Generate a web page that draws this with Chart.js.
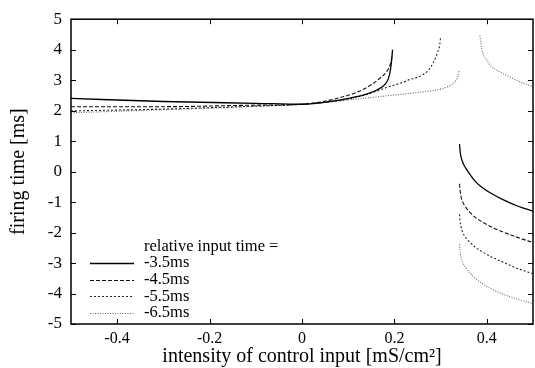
<!DOCTYPE html>
<html>
<head>
<meta charset="utf-8">
<script src="https://cdn.jsdelivr.net/npm/chart.js@4.4.0/dist/chart.umd.min.js"></script>
<style>
  html, body { margin: 0; padding: 0; background: #fff; }
  #wrap { width: 535px; height: 368px; }
</style>
</head>
<body>
<div id="wrap"><canvas id="c" width="535" height="368"></canvas></div>
<script>
// Series labels (relative input time)
const seriesLabels = ['-3.5ms', '-4.5ms', '-5.5ms', '-6.5ms'];
const xTicks = [-0.4, -0.2, 0, 0.2, 0.4];
const yTicks = [-5, -4, -3, -2, -1, 0, 1, 2, 3, 4, 5];

// -3.5ms
const t35Left = [[-0.5, 2.40], [-0.3, 2.30], [-0.1, 2.24], [0, 2.21], [0.07, 2.32], [0.1, 2.40],
    [0.14, 2.54], [0.165, 2.70], [0.18, 2.87], [0.187, 3.05], [0.191, 3.30], [0.194, 3.65], [0.196, 4.0]];
const t35Right = [[0.341, 0.90], [0.342, 0.70], [0.344, 0.50], [0.348, 0.30], [0.355, 0.10], [0.364, -0.10],
    [0.375, -0.32], [0.39, -0.52], [0.41, -0.72], [0.435, -0.92], [0.465, -1.12], [0.5, -1.30]];

// -4.5ms
const t45Left = [[-0.5, 2.13], [-0.3, 2.13], [-0.1, 2.18], [0, 2.21], [0.083, 2.43], [0.133, 2.70],
    [0.17, 3.08], [0.185, 3.32], [0.191, 3.52], [0.195, 3.80]];
const t45Right = [[0.341, -0.40], [0.342, -0.60], [0.344, -0.80], [0.348, -1.00], [0.355, -1.18], [0.364, -1.35],
    [0.375, -1.50], [0.39, -1.65], [0.41, -1.82], [0.435, -1.98], [0.465, -2.15], [0.5, -2.33]];

// -5.5ms
const t55Left = [[-0.5, 1.99], [-0.3, 2.05], [-0.1, 2.15], [0, 2.21], [0.1, 2.38], [0.15, 2.58],
    [0.191, 2.80], [0.213, 2.90], [0.235, 3.03], [0.257, 3.14], [0.275, 3.35], [0.285, 3.60],
    [0.293, 3.90], [0.298, 4.15], [0.30, 4.42]];
const t55Right = [[0.341, -1.40], [0.342, -1.60], [0.344, -1.80], [0.348, -2.00], [0.355, -2.18], [0.364, -2.33],
    [0.375, -2.48], [0.39, -2.63], [0.41, -2.80], [0.435, -2.97], [0.465, -3.17], [0.5, -3.35]];

// -6.5ms
const t65Left = [[-0.5, 1.93], [-0.3, 2.03], [-0.1, 2.14], [0, 2.21], [0.1, 2.35], [0.191, 2.50],
    [0.263, 2.62], [0.307, 2.74], [0.325, 2.86], [0.333, 2.98], [0.338, 3.15], [0.340, 3.30]];
const t65Upper = [[0.385, 4.46], [0.388, 4.15], [0.391, 3.90], [0.40, 3.66], [0.409, 3.46],
    [0.425, 3.30], [0.445, 3.14], [0.47, 2.96], [0.5, 2.78]];
const t65Right = [[0.341, -2.38], [0.342, -2.58], [0.344, -2.78], [0.348, -2.98], [0.355, -3.16], [0.364, -3.33],
    [0.375, -3.50], [0.39, -3.67], [0.41, -3.85], [0.435, -4.02], [0.465, -4.18], [0.5, -4.33]];

const seriesBranches = [
    [t35Left, t35Right],
    [t45Left, t45Right],
    [t55Left, t55Right],
    [t65Left, t65Upper, t65Right]
];

// line looks, one per series
const lineStyles = [
    { color: '#000', width: 1.3, dash: [] },
    { color: '#111', width: 1.1, dash: [4, 2] },
    { color: '#222', width: 1.1, dash: [2, 2] },
    { color: '#666', width: 1.1, dash: [1, 1.5] }
];

const serif = '"Liberation Serif", "DejaVu Serif", serif';

const datasets = [];
seriesBranches.forEach((branches, i) => {
    branches.forEach(pts => {
        datasets.push({
            label: seriesLabels[i],
            data: pts.map(p => ({ x: p[0], y: p[1] })),
            showLine: true,
            borderColor: lineStyles[i].color,
            borderWidth: lineStyles[i].width,
            borderDash: lineStyles[i].dash,
            pointRadius: 0,
            cubicInterpolationMode: 'monotone',
            fill: false
        });
    });
});

// frame, inward ticks and the in-plot legend
const framePlugin = {
    id: 'frame',
    afterDraw(chart) {
        const ctx = chart.ctx;
        const a = chart.chartArea;
        const xs = chart.scales.x, ys = chart.scales.y;
        ctx.save();
        ctx.strokeStyle = '#000';
        ctx.lineWidth = 1.5;
        ctx.setLineDash([]);
        ctx.strokeRect(a.left, a.top, a.right - a.left, a.bottom - a.top);
        ctx.lineWidth = 1;
        ctx.beginPath();
        xTicks.forEach(v => {
            const px = Math.round(xs.getPixelForValue(v)) + 0.5;
            ctx.moveTo(px, a.bottom); ctx.lineTo(px, a.bottom - 5);
            ctx.moveTo(px, a.top); ctx.lineTo(px, a.top + 5);
        });
        yTicks.forEach(v => {
            const py = Math.round(ys.getPixelForValue(v)) + 0.5;
            ctx.moveTo(a.left, py); ctx.lineTo(a.left + 5, py);
            ctx.moveTo(a.right, py); ctx.lineTo(a.right - 5, py);
        });
        ctx.stroke();

        // legend
        ctx.fillStyle = '#000';
        ctx.font = '16.5px ' + serif;
        ctx.textBaseline = 'middle';
        ctx.textAlign = 'left';
        ctx.fillText('relative input time =', 144, 247);
        seriesLabels.forEach((lab, i) => {
            const y = 263 + i * 16.7;
            ctx.fillText(lab, 144, y);
            ctx.beginPath();
            ctx.strokeStyle = lineStyles[i].color;
            ctx.lineWidth = lineStyles[i].width;
            ctx.setLineDash(lineStyles[i].dash);
            ctx.moveTo(90, Math.round(y) + 0.5);
            ctx.lineTo(134, Math.round(y) + 0.5);
            ctx.stroke();
        });
        ctx.restore();
    }
};

new Chart(document.getElementById('c').getContext('2d'), {
    type: 'scatter',
    data: { datasets: datasets },
    options: {
        responsive: false,
        animation: false,
        layout: { padding: { top: 16, right: 2, left: 0, bottom: 0 } },
        plugins: {
            legend: { display: false },
            tooltip: { enabled: false }
        },
        scales: {
            x: {
                type: 'linear',
                min: -0.5,
                max: 0.5,
                afterBuildTicks: s => { s.ticks = xTicks.map(v => ({ value: v })); },
                afterFit: s => { s.height = 44; },
                grid: { display: false, drawTicks: false },
                border: { display: false },
                ticks: {
                    color: '#000',
                    font: { family: serif, size: 16 },
                    padding: 5,
                    maxRotation: 0,
                    callback: v => String(v)
                },
                title: {
                    display: true,
                    text: 'intensity of control input [mS/cm²]',
                    color: '#000',
                    font: { family: serif, size: 20 },
                    padding: { top: 0, bottom: -1 }
                }
            },
            y: {
                min: -5,
                max: 5,
                afterBuildTicks: s => { s.ticks = yTicks.map(v => ({ value: v })); },
                afterFit: s => { s.width = 71; },
                grid: { display: false, drawTicks: false },
                border: { display: false },
                ticks: {
                    color: '#000',
                    font: { family: serif, size: 17 },
                    padding: 9
                },
                title: {
                    display: true,
                    text: 'firing time [ms]',
                    color: '#000',
                    font: { family: serif, size: 20 },
                    padding: { top: 7, bottom: 4 }
                }
            }
        }
    },
    plugins: [framePlugin]
});
</script>
</body>
</html>
